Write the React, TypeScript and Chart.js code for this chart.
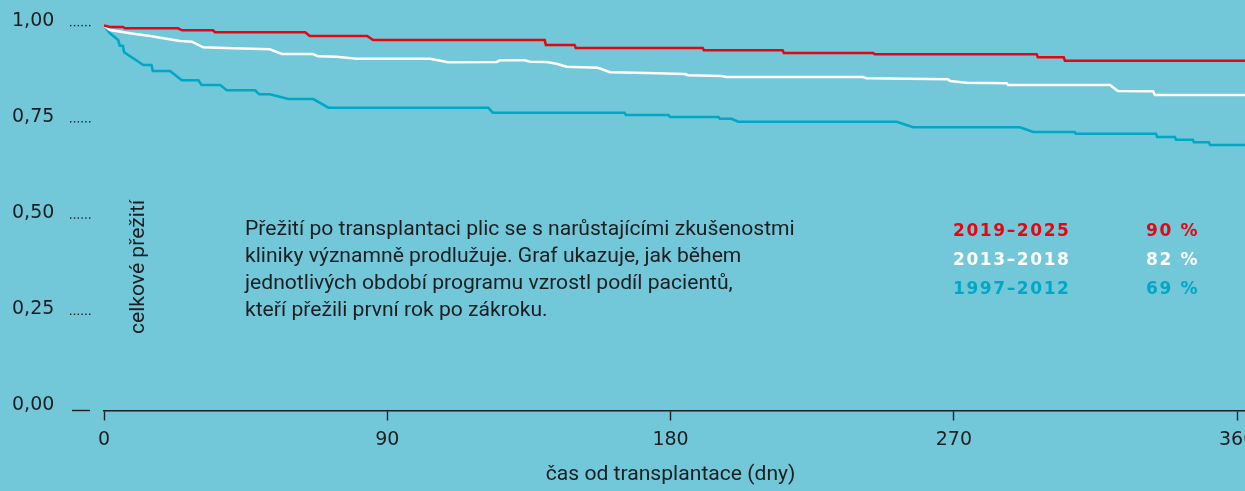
import React, { useEffect, useRef } from 'react';
import { Chart, registerables } from 'chart.js';

Chart.register(...registerables);

const W = 1245;
const H = 491;
const BG = '#72C7D8';
const INK = '#1b1f22';
const RED = '#E30613';
const WHITE = '#FFFFFF';
const TEAL = '#00A8C5';

const xTicks = [0, 90, 180, 270, 360];
const yTicks = [0, 0.25, 0.5, 0.75, 1];
const X_MAX = 362.5;

const redDays = [0, 1.9, 6.0, 6.7, 23.5, 24.8, 34.6, 35.3, 63.9, 65.4, 83.6, 85.5, 140.0, 140.4, 149.5, 149.9, 190.2, 190.6, 215.6, 216.0, 244.3, 244.9, 296.3, 296.7, 304.9, 305.3, 362.5];
const redSurv = [1.0, 0.9964, 0.9964, 0.993, 0.993, 0.9878, 0.9878, 0.9826, 0.9826, 0.973, 0.973, 0.9626, 0.9626, 0.9496, 0.9496, 0.9418, 0.9418, 0.9358, 0.9358, 0.9288, 0.9288, 0.9254, 0.9254, 0.9177, 0.9177, 0.9088, 0.9088];

const whiteDays = [0, 1.9, 8.3, 14.6, 24.1, 27.9, 31.5, 41.0, 52.7, 56.5, 66.4, 68.0, 73.9, 80.3, 103.6, 109.3, 124.8, 125.8, 133.7, 135.3, 140.6, 143.8, 147.0, 156.9, 160.8, 172.4, 184.6, 185.5, 196.2, 197.8, 241.1, 242.3, 268.1, 268.8, 274.1, 286.8, 287.2, 319.6, 322.1, 333.3, 333.9, 362.5];
const whiteSurv = [1.0, 0.9886, 0.98, 0.973, 0.96, 0.9582, 0.9436, 0.941, 0.9384, 0.9262, 0.9262, 0.9202, 0.9192, 0.914, 0.914, 0.9047, 0.9054, 0.9098, 0.9098, 0.9062, 0.9054, 0.901, 0.8932, 0.8906, 0.8787, 0.8769, 0.8742, 0.8709, 0.8691, 0.8665, 0.8665, 0.8631, 0.8605, 0.856, 0.8517, 0.8501, 0.8457, 0.8457, 0.8301, 0.8293, 0.8197, 0.8197];

const tealDays = [0, 1.9, 4.5, 5.0, 6.0, 6.4, 12.5, 15.1, 15.5, 21.0, 24.7, 30.0, 31.0, 36.9, 39.0, 48.0, 49.3, 52.7, 58.6, 66.5, 71.3, 122.1, 123.5, 165.4, 165.8, 179.3, 179.8, 195.2, 195.7, 199.4, 201.5, 251.8, 257.1, 291.0, 295.2, 308.4, 308.8, 334.2, 334.6, 340.2, 340.6, 345.9, 346.3, 351.0, 351.4, 362.5];
const tealSurv = [1.0, 0.98, 0.9626, 0.9478, 0.9478, 0.9306, 0.8976, 0.8976, 0.882, 0.882, 0.8579, 0.8579, 0.8457, 0.8457, 0.8319, 0.8319, 0.8215, 0.8215, 0.8093, 0.8093, 0.7867, 0.7867, 0.7737, 0.7737, 0.7677, 0.7677, 0.7625, 0.7625, 0.7581, 0.7581, 0.7503, 0.7503, 0.7358, 0.7358, 0.7236, 0.7236, 0.7192, 0.7192, 0.7106, 0.7106, 0.7036, 0.7036, 0.6968, 0.6968, 0.6898, 0.6898];

const legendPeriods = ['2019–2025', '2013–2018', '1997–2012'];
const legendRates = ['90 %', '82 %', '69 %'];
const legendColors = [RED, WHITE, TEAL];

const noteLines = [
  'Přežití po transplantaci plic se s narůstajícími zkušenostmi',
  'kliniky významně prodlužuje. Graf ukazuje, jak během',
  'jednotlivých období programu vzrostl podíl pacientů,',
  'kteří přežili první rok po zákroku.',
];
const xTitle = 'čas od transplantace (dny)';
const yTitle = 'celkové přežití';

const TEXT_FONT = 'Roboto';
const NUM_FONT = 'DejaVu Sans';

function pts(days: number[], vals: number[]) {
  return days.map((d, i) => ({ x: d, y: vals[i] }));
}

const decor = {
  id: 'decor',
  beforeDraw(chart: any) {
    const { ctx } = chart;
    ctx.save();
    ctx.fillStyle = BG;
    ctx.fillRect(0, 0, chart.width, chart.height);
    ctx.restore();
  },
  afterDraw(chart: any) {
    const { ctx, chartArea, scales } = chart;
    const ys = scales.y;
    const xs = scales.x;
    ctx.save();
    // dotted tick leaders
    ctx.fillStyle = INK;
    yTicks.forEach((v) => {
      const py = ys.getPixelForValue(v);
      if (v === 0) {
        ctx.fillRect(72, py - 0.7, 18, 1.4);
      } else {
        for (let i = 0; i < 6; i++) {
          ctx.fillRect(70 + i * 3.8, py - 0.7, 1.4, 1.4);
        }
      }
    });

    // fit text size
    ctx.font = `100px ${TEXT_FONT}`;
    const w100 = ctx.measureText(noteLines[0]).width;
    const fs = (100 * 550) / w100;
    ctx.font = `${fs}px ${TEXT_FONT}`;
    ctx.fillStyle = INK;
    ctx.textAlign = 'left';
    ctx.textBaseline = 'alphabetic';
    noteLines.forEach((line, i) => {
      ctx.fillText(line, 245, 235 + i * 27);
    });

    // x title
    ctx.textAlign = 'center';
    ctx.fillText(xTitle, xs.getPixelForValue(180), 480);

    // y title
    ctx.save();
    ctx.translate(chartArea.left + 39.5, 267);
    ctx.rotate(-Math.PI / 2);
    ctx.textAlign = 'center';
    ctx.fillText(yTitle, 0, 0);
    ctx.restore();

    // legend
    ctx.font = `bold 17px ${NUM_FONT}`;
    (ctx as any).letterSpacing = '1.6px';
    ctx.textAlign = 'left';
    legendPeriods.forEach((p, i) => {
      ctx.fillStyle = legendColors[i];
      ctx.fillText(p, 953, 236 + i * 29);
      ctx.fillText(legendRates[i], 1146, 236 + i * 29);
    });
    ctx.restore();
  },
};

export default function App() {
  const ref = useRef<HTMLCanvasElement | null>(null);
  useEffect(() => {
    document.body.style.margin = '0';
    document.body.style.background = BG;
    const canvas = ref.current!;
    const line = (data: any, color: string) => ({
      data,
      borderColor: color,
      backgroundColor: color,
      borderWidth: 2.6,
      pointRadius: 0,
      tension: 0,
      fill: false,
      clip: false as any,
    });
    const chart = new Chart(canvas, {
      type: 'line',
      data: {
        datasets: [
          { label: legendPeriods[0], ...line(pts(redDays, redSurv), RED) },
          { label: legendPeriods[1], ...line(pts(whiteDays, whiteSurv), WHITE) },
          { label: legendPeriods[2], ...line(pts(tealDays, tealSurv), TEAL) },
        ],
      },
      options: {
        animation: false,
        responsive: false,
        events: [],
        layout: { autoPadding: false, padding: { left: 12, top: 25.6, right: 0, bottom: 0 } },
        plugins: { legend: { display: false }, tooltip: { enabled: false }, title: { display: false } },
        scales: {
          x: {
            type: 'linear',
            min: 0,
            max: X_MAX,
            afterBuildTicks: (s: any) => {
              s.ticks = xTicks.map((v) => ({ value: v }));
            },
            afterFit: (s: any) => {
              s.height = H - 410.5;
              s.paddingLeft = 0;
              s.paddingRight = 0;
            },
            border: { display: true, color: INK, width: 1.4 },
            grid: { drawOnChartArea: false, drawTicks: true, tickLength: 10, tickColor: INK, tickWidth: 1.4 },
            ticks: {
              color: INK,
              font: { family: NUM_FONT, size: 19 },
              padding: 8,
              maxRotation: 0,
              autoSkip: false,
              callback: (v: any) => String(v),
            },
          },
          y: {
            type: 'linear',
            min: 0,
            max: 1,
            afterBuildTicks: (s: any) => {
              s.ticks = yTicks.map((v) => ({ value: v }));
            },
            afterFit: (s: any) => {
              s.width = 92;
              s.paddingTop = 0;
              s.paddingBottom = 0;
            },
            border: { display: false },
            grid: { display: false },
            ticks: {
              crossAlign: 'far',
              padding: 0,
              labelOffset: -5,
              color: INK,
              font: { family: NUM_FONT, size: 19 },
              callback: (v: any) => Number(v).toFixed(2).replace('.', ','),
            },
          },
        },
      },
      plugins: [decor],
    });
    return () => chart.destroy();
  }, []);
  return (
    <div style={{ width: W, height: H, background: BG, overflow: 'hidden' }}>
      <canvas ref={ref} width={W} height={H} style={{ display: 'block' }} />
    </div>
  );
}
